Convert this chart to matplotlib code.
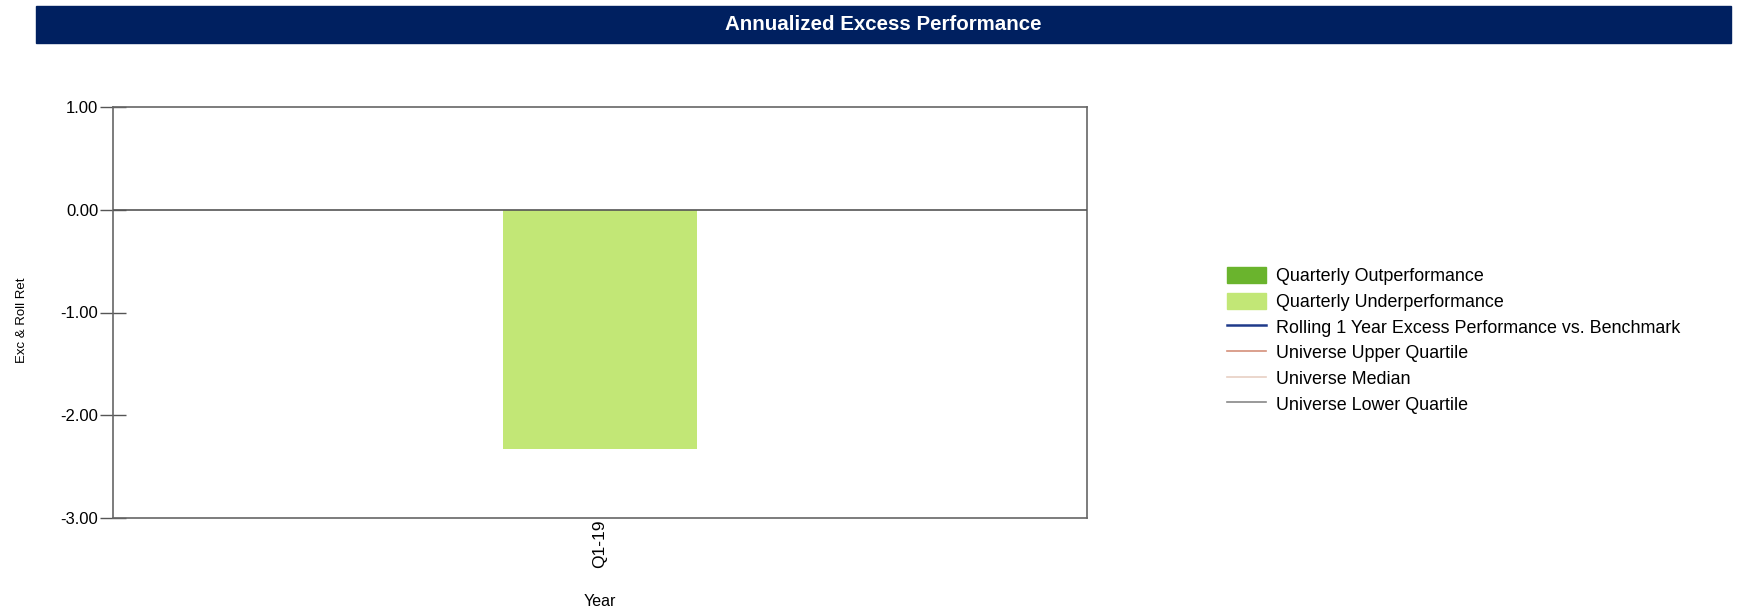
import matplotlib
matplotlib.use("Agg")
import matplotlib.pyplot as plt
from matplotlib.patches import Patch, Rectangle
from matplotlib.lines import Line2D

# data
quarters = ["Q1-19"]
excess = [-2.33]
y_ticks = [1.0, 0.0, -1.0, -2.0, -3.0]

legend_labels = [
    "Quarterly Outperformance",
    "Quarterly Underperformance",
    "Rolling 1 Year Excess Performance vs. Benchmark",
    "Universe Upper Quartile",
    "Universe Median",
    "Universe Lower Quartile",
]

OUT_GREEN = "#6AB42D"
UNDER_GREEN = "#C2E776"
NAVY = "#002060"


def main():
    plt.rcParams["font.family"] = ["Liberation Sans", "DejaVu Sans"]
    W, H = 1765, 612
    fig = plt.figure(figsize=(W / 100, H / 100), dpi=100)

    # title bar
    fig.patches.append(Rectangle((36 / W, 1 - 43 / H), 1695 / W, 37 / H,
                                 transform=fig.transFigure, color=NAVY, zorder=0))
    fig.text(883 / W, 1 - 24.5 / H, "Annualized Excess Performance",
             weight="bold", fontsize=14.8, color="white",
             ha="center", va="center")

    ax = fig.add_axes([113 / W, (H - 518) / H, 974 / W, 411 / H])
    x = list(range(len(quarters)))
    colors = [OUT_GREEN if v >= 0 else UNDER_GREEN for v in excess]
    ax.bar(x, excess, width=0.2, color=colors, zorder=2)
    ax.axhline(0, color="#555555", lw=1.2, zorder=3)

    ax.set_xlim(-0.5, 0.5)
    ax.set_ylim(-3, 1)
    ax.set_yticks(y_ticks)
    ax.set_yticklabels([f"{v:.2f}" for v in y_ticks], fontsize=12)
    ax.set_xticks(x)
    ax.set_xticklabels(quarters, rotation=90, fontsize=12.5)
    ax.tick_params(axis="y", direction="inout", length=19, width=1, color="#555555", pad=1)
    ax.tick_params(axis="x", length=0, pad=1)
    for s in ax.spines.values():
        s.set_color("#666666")
        s.set_linewidth(1.2)

    ax.set_xlabel("Year", fontsize=11.5, labelpad=19)
    ax.set_ylabel("Exc & Roll Ret", fontsize=9.5)
    ax.yaxis.set_label_coords(-0.087, 0.48)

    handles = [
        Patch(color=OUT_GREEN),
        Patch(color=UNDER_GREEN),
        Line2D([], [], color="#1F3A8A", lw=1.8),
        Line2D([], [], color="#D4907A", lw=1.2),
        Line2D([], [], color="#E8CFC4", lw=1.2),
        Line2D([], [], color="#888888", lw=1.2),
    ]
    fig.legend(handles, legend_labels, loc="upper left",
               bbox_to_anchor=(1227 / W, 1 - 267 / H), frameon=False,
               fontsize=12.9, handlelength=2.2, handleheight=1.0,
               handletextpad=0.55, labelspacing=0.42, borderpad=0, borderaxespad=0)

    fig.savefig("out.png", dpi=100)


if __name__ == "__main__":
    main()
